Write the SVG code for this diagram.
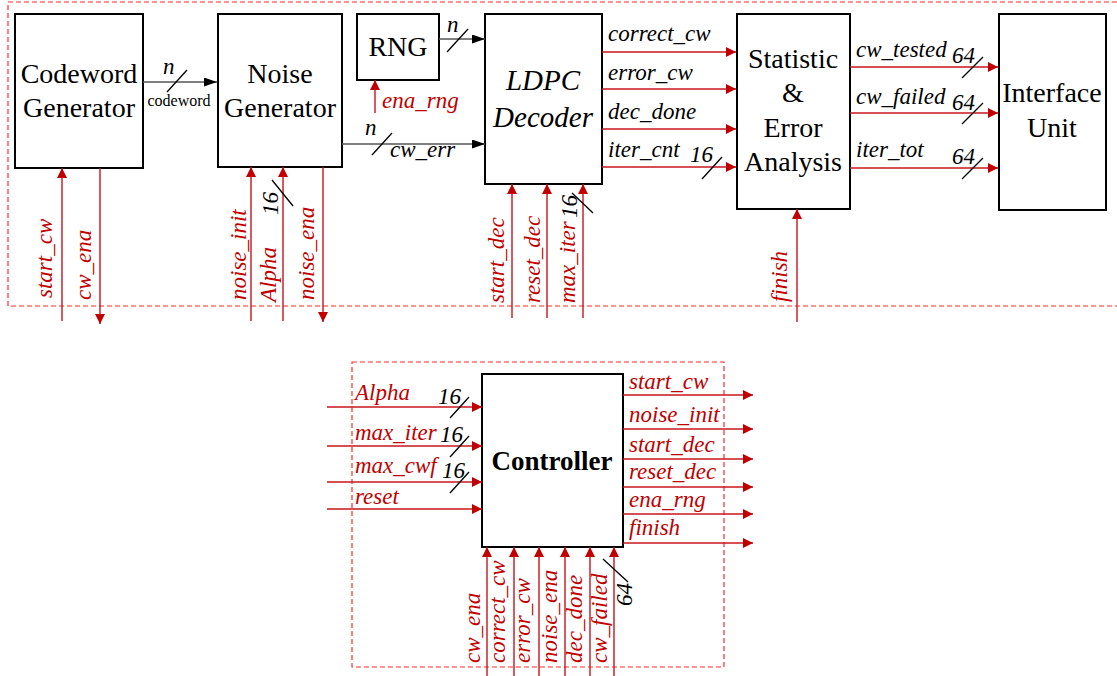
<svg xmlns="http://www.w3.org/2000/svg" width="1117" height="676" viewBox="0 0 1117 676">
<style>
.box{fill:#fff;stroke:#000;stroke-width:2}
.rw{stroke:#c8141e;stroke-width:1.4;fill:none}
.bw{stroke:#555;stroke-width:1.6;fill:none}
.sl{stroke:#000;stroke-width:1.3}
.dash{fill:none;stroke:#ff2a2a;stroke-width:1.2;stroke-dasharray:5 3}
</style>
<defs>
<marker id="ra" markerUnits="userSpaceOnUse" markerWidth="12" markerHeight="12" refX="10" refY="5" orient="auto"><path d="M0,0 L10,5 L0,10 z" fill="#c00000"/></marker>
<marker id="ka" markerUnits="userSpaceOnUse" markerWidth="14" markerHeight="12" refX="13" refY="4.5" orient="auto"><path d="M0,0 L13,4.5 L0,9 z" fill="#000"/></marker>
</defs>
<rect width="1117" height="676" fill="#fff"/>
<g id="frames">
<rect class="dash" x="8" y="2" width="1120" height="304"/>
<rect class="dash" x="352" y="362" width="372" height="305"/>
</g>
<g id="codeword-generator" font-family="Liberation Serif, serif" font-size="28" text-anchor="middle"><rect class="box" x="15" y="14" width="128" height="154"/><text x="79" y="83">Codeword</text><text x="79" y="117">Generator</text></g>
<g id="noise-generator" font-family="Liberation Serif, serif" font-size="28" text-anchor="middle"><rect class="box" x="218" y="14" width="124" height="153"/><text x="280" y="83">Noise</text><text x="280" y="117">Generator</text></g>
<g id="rng" font-family="Liberation Serif, serif" font-size="28" text-anchor="middle"><rect class="box" x="357" y="14" width="82" height="66"/><text x="398" y="56">RNG</text></g>
<g id="ldpc-decoder" font-family="Liberation Serif, serif" font-size="29" font-style="italic" text-anchor="middle"><rect class="box" x="485" y="14" width="117" height="170"/><text x="543" y="90">LDPC</text><text x="543" y="127">Decoder</text></g>
<g id="statistic" font-family="Liberation Serif, serif" font-size="28" text-anchor="middle"><rect class="box" x="737" y="14" width="113" height="195"/><text x="793" y="68">Statistic</text><text x="793" y="102">&amp;</text><text x="793" y="137">Error</text><text x="793" y="171">Analysis</text></g>
<g id="interface-unit" font-family="Liberation Serif, serif" font-size="28" text-anchor="middle"><rect class="box" x="999" y="14" width="107" height="196"/><text x="1052" y="102">Interface</text><text x="1052" y="137">Unit</text></g>
<g id="controller" font-family="Liberation Serif, serif" font-size="27" font-weight="bold" text-anchor="middle"><rect class="box" x="482" y="374" width="141" height="173"/><text x="552" y="470">Controller</text></g>
<g id="connectors">
<line class="bw" x1="143" y1="82" x2="217" y2="82" marker-end="url(#ka)"/>
<line class="bw" x1="439" y1="39" x2="485" y2="39" marker-end="url(#ka)"/>
<line class="bw" x1="342" y1="144" x2="485" y2="144" marker-end="url(#ka)"/>
<line class="rw" x1="375" y1="113" x2="375" y2="80" marker-end="url(#ra)"/>
<line class="rw" x1="602" y1="52" x2="736" y2="52" marker-end="url(#ra)"/>
<line class="rw" x1="602" y1="89" x2="736" y2="89" marker-end="url(#ra)"/>
<line class="rw" x1="602" y1="129" x2="736" y2="129" marker-end="url(#ra)"/>
<line class="rw" x1="602" y1="167" x2="736" y2="167" marker-end="url(#ra)"/>
<line class="rw" x1="850" y1="67" x2="998" y2="67" marker-end="url(#ra)"/>
<line class="rw" x1="850" y1="113" x2="998" y2="113" marker-end="url(#ra)"/>
<line class="rw" x1="850" y1="168" x2="998" y2="168" marker-end="url(#ra)"/>
<line class="rw" x1="62" y1="321" x2="62" y2="168" marker-end="url(#ra)"/>
<line class="rw" x1="100" y1="168" x2="100" y2="324" marker-end="url(#ra)"/>
<line class="rw" x1="251" y1="321" x2="251" y2="167" marker-end="url(#ra)"/>
<line class="rw" x1="283" y1="321" x2="283" y2="167" marker-end="url(#ra)"/>
<line class="rw" x1="323" y1="167" x2="323" y2="322" marker-end="url(#ra)"/>
<line class="rw" x1="512" y1="318" x2="512" y2="184" marker-end="url(#ra)"/>
<line class="rw" x1="547" y1="318" x2="547" y2="184" marker-end="url(#ra)"/>
<line class="rw" x1="583" y1="318" x2="583" y2="184" marker-end="url(#ra)"/>
<line class="rw" x1="797" y1="322" x2="797" y2="209" marker-end="url(#ra)"/>
<line class="rw" x1="327" y1="407" x2="482" y2="407" marker-end="url(#ra)"/>
<line class="rw" x1="327" y1="446" x2="482" y2="446" marker-end="url(#ra)"/>
<line class="rw" x1="327" y1="482" x2="482" y2="482" marker-end="url(#ra)"/>
<line class="rw" x1="327" y1="509" x2="482" y2="509" marker-end="url(#ra)"/>
<line class="rw" x1="623" y1="395" x2="753" y2="395" marker-end="url(#ra)"/>
<line class="rw" x1="623" y1="429" x2="753" y2="429" marker-end="url(#ra)"/>
<line class="rw" x1="623" y1="459" x2="753" y2="459" marker-end="url(#ra)"/>
<line class="rw" x1="623" y1="487" x2="753" y2="487" marker-end="url(#ra)"/>
<line class="rw" x1="623" y1="514" x2="753" y2="514" marker-end="url(#ra)"/>
<line class="rw" x1="623" y1="543" x2="753" y2="543" marker-end="url(#ra)"/>
<line class="rw" x1="487" y1="676" x2="487" y2="547" marker-end="url(#ra)"/>
<line class="rw" x1="514" y1="676" x2="514" y2="547" marker-end="url(#ra)"/>
<line class="rw" x1="539" y1="676" x2="539" y2="547" marker-end="url(#ra)"/>
<line class="rw" x1="565" y1="676" x2="565" y2="547" marker-end="url(#ra)"/>
<line class="rw" x1="590" y1="676" x2="590" y2="547" marker-end="url(#ra)"/>
<line class="rw" x1="614" y1="676" x2="614" y2="547" marker-end="url(#ra)"/>
<line class="sl" x1="167" y1="92" x2="187" y2="70"/>
<line class="sl" x1="447" y1="52" x2="468" y2="29"/>
<line class="sl" x1="372" y1="155" x2="392" y2="133"/>
<line class="sl" x1="702" y1="179" x2="722" y2="157"/>
<line class="sl" x1="962" y1="78" x2="983" y2="57"/>
<line class="sl" x1="962" y1="124" x2="983" y2="103"/>
<line class="sl" x1="962" y1="179" x2="983" y2="158"/>
<line class="sl" x1="272" y1="180" x2="293" y2="206"/>
<line class="sl" x1="572" y1="193" x2="593" y2="213"/>
<line class="sl" x1="450" y1="418" x2="469" y2="397"/>
<line class="sl" x1="450" y1="457" x2="469" y2="436"/>
<line class="sl" x1="450" y1="493" x2="469" y2="472"/>
<line class="sl" x1="603" y1="559" x2="628" y2="582"/>
</g>
<g id="labels-black" font-family="Liberation Serif, serif" font-style="italic" font-size="23" fill="#000">
<text x="163" y="74">n</text>
<text font-style="normal" font-size="16" text-anchor="middle" x="179" y="106">codeword</text>
<text x="447" y="32">n</text>
<text x="365" y="135">n</text>
<text x="390" y="157">cw_err</text>
<text x="608" y="41">correct_cw</text>
<text x="608" y="80">error_cw</text>
<text x="608" y="119">dec_done</text>
<text x="608" y="157">iter_cnt</text>
<text x="690" y="162">16</text>
<text x="856" y="57">cw_tested</text>
<text x="952" y="63">64</text>
<text x="856" y="104">cw_failed</text>
<text x="952" y="110">64</text>
<text x="856" y="157">iter_tot</text>
<text x="952" y="164">64</text>
<text transform="translate(278,215) rotate(-90)">16</text>
<text transform="translate(577,218) rotate(-90)">16</text>
<text x="438" y="404">16</text>
<text x="440" y="442">16</text>
<text x="442" y="478">16</text>
<text transform="translate(632,606) rotate(-90)">64</text>
</g>
<g id="labels-red" font-family="Liberation Serif, serif" font-style="italic" font-size="23" fill="#c00000">
<text x="382" y="108">ena_rng</text>
<text transform="translate(52,298) rotate(-90)">start_cw</text>
<text transform="translate(91,300) rotate(-90)">cw_ena</text>
<text transform="translate(246,300) rotate(-90)">noise_init</text>
<text transform="translate(276,302) rotate(-90)">Alpha</text>
<text transform="translate(314,300) rotate(-90)">noise_ena</text>
<text transform="translate(504,303) rotate(-90)">start_dec</text>
<text transform="translate(540,303) rotate(-90)">reset_dec</text>
<text transform="translate(575,303) rotate(-90)">max_iter</text>
<text transform="translate(787,302) rotate(-90)">finish</text>
<text x="355" y="400">Alpha</text>
<text x="355" y="440">max_iter</text>
<text x="355" y="473">max_cwf</text>
<text x="355" y="504">reset</text>
<text x="629" y="389">start_cw</text>
<text x="629" y="422">noise_init</text>
<text x="629" y="452">start_dec</text>
<text x="629" y="479">reset_dec</text>
<text x="629" y="507">ena_rng</text>
<text x="629" y="535">finish</text>
<text transform="translate(480,663) rotate(-90)">cw_ena</text>
<text transform="translate(505,663) rotate(-90)">correct_cw</text>
<text transform="translate(530,663) rotate(-90)">error_cw</text>
<text transform="translate(557,663) rotate(-90)">noise_ena</text>
<text transform="translate(582,663) rotate(-90)">dec_done</text>
<text transform="translate(607,663) rotate(-90)">cw_failed</text>
</g>
</svg>
